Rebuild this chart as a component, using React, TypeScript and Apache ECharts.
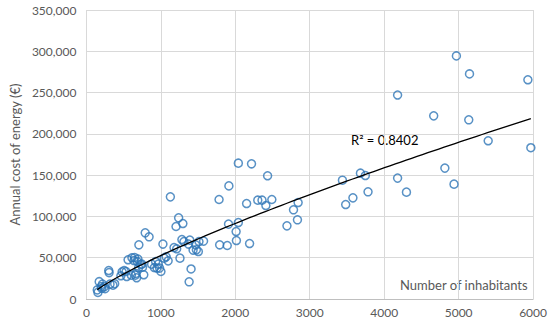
import React, { useEffect, useRef } from "react";
import * as echarts from "echarts";

const inhabitants: number[] = [
  155, 172, 198, 216, 242, 146, 251, 317, 357, 380, 300, 305, 207,
  463, 480, 507, 533, 542, 560, 604, 612, 639, 648, 657, 665, 675, 684, 692, 701, 705, 728, 745, 754, 771, 790, 842, 876, 913, 930, 948, 966, 983, 1001, 1028, 1045, 1071, 1098,
  1128, 1177, 1213, 1204, 1239, 1296, 1257, 1283, 1310, 1372, 1389, 1406, 1380, 1433, 1468, 1477, 1504, 1512, 1574,
  1782, 1790, 1892, 1914, 1909, 2011, 2015, 2041, 2041, 2192, 2218, 2152, 2302, 2359, 2411, 2434, 2491,
  2694, 2782, 2835, 2844,
  3439, 3483, 3580, 3681, 3747, 3783, 4180, 4180, 4299,
  4665, 4815, 4938, 4970, 5136, 5146, 5397, 5930, 5970,
];

const energyCost: number[] = [
  8000, 21000, 15000, 18000, 15000, 11000, 12500, 18000, 16800, 18500, 34500, 32000, 13000,
  28100, 32900, 34500, 33300, 27200, 47500, 28900, 49900, 46600, 50200, 28900, 30900, 25700, 45400, 48300, 37800, 65600, 41800, 42200, 38600, 29300, 80100, 75300, 42200, 38100, 45400, 37400, 42200, 37400, 33300, 66500, 49500, 51100, 46200,
  123700, 62300, 60800, 87800, 98300, 91400, 49500, 72000, 69600, 66500, 71300, 36400, 20800, 59200, 65600, 59600, 57500, 69600, 70100,
  120500, 65600, 64800, 137000, 90700, 81700, 70800, 92600, 164500, 67200, 163700, 115600, 119700, 119700, 113200, 149200, 120500,
  88600, 108000, 95900, 116800,
  143900, 114400, 122500, 152400, 149500, 129800, 146400, 247000, 129400,
  221800, 158500, 139100, 294400, 217000, 272600, 191600, 265500, 183200,
];

const xTicks = { min: 0, max: 6000, interval: 1000 };
const yTicks = { min: 0, max: 350000, interval: 50000 };
const rSquaredLabel = "R² = 0.8402";
const xAxisTitle = "Number of inhabitants";
const yAxisTitle = "Annual cost of energy (€)";

function powerFit(xs: number[], ys: number[]) {
  const n = xs.length;
  let sx = 0, sy = 0, sxx = 0, sxy = 0;
  for (let i = 0; i < n; i++) {
    const lx = Math.log(xs[i]);
    const ly = Math.log(ys[i]);
    sx += lx; sy += ly; sxx += lx * lx; sxy += lx * ly;
  }
  const b = (n * sxy - sx * sy) / (n * sxx - sx * sx);
  const lnA = (sy - b * sx) / n;
  return { a: Math.exp(lnA), b };
}

export default function App() {
  const ref = useRef<HTMLDivElement>(null);
  useEffect(() => {
    if (!ref.current) return;
    const chart = echarts.init(ref.current, undefined, { renderer: "svg" });
    const points = inhabitants.map((x, i) => [x, energyCost[i]]);
    const { a, b } = powerFit(inhabitants, energyCost);
    const minX = Math.min(...inhabitants);
    const maxX = Math.max(...inhabitants);
    const trend: number[][] = [];
    const steps = 80;
    for (let i = 0; i <= steps; i++) {
      const x = minX + ((maxX - minX) * i) / steps;
      trend.push([x, a * Math.pow(x, b)]);
    }
    const font = "Lato, 'Open Sans', sans-serif";
    chart.setOption({
      animation: false,
      grid: { left: 81, right: 15, top: 10, bottom: 25 },
      xAxis: {
        type: "value",
        min: xTicks.min,
        max: xTicks.max,
        interval: xTicks.interval,
        axisLine: { show: true, lineStyle: { color: "#bfbfbf" } },
        axisTick: { show: false },
        axisLabel: { color: "#595959", fontSize: 12, fontFamily: font, margin: 7, formatter: (v: number) => String(v) },
        splitLine: { show: true, lineStyle: { color: "#d9d9d9", width: 1 } },
      },
      yAxis: {
        type: "value",
        min: yTicks.min,
        max: yTicks.max,
        interval: yTicks.interval,
        name: yAxisTitle,
        nameLocation: "middle",
        nameGap: 62,
        nameTextStyle: { color: "#595959", fontSize: 13, fontFamily: font },
        axisLine: { show: false },
        axisTick: { show: false },
        axisLabel: {
          color: "#595959",
          fontSize: 12,
          fontFamily: font,
          margin: 10,
          formatter: (v: number) => v.toLocaleString("en-US"),
        },
        splitLine: { show: true, lineStyle: { color: "#d9d9d9", width: 1 } },
      },
      series: [
        {
          type: "scatter",
          data: points,
          symbol: "circle",
          symbolSize: 8,
          itemStyle: { color: "rgba(0,0,0,0)", borderColor: "#2e75b6", borderWidth: 1.5 },
          z: 2,
        },
        {
          type: "line",
          data: trend,
          showSymbol: false,
          smooth: false,
          lineStyle: { color: "#000000", width: 1.3 },
          z: 3,
        },
      ],
      graphic: [
        {
          type: "text",
          left: 400,
          top: 278,
          style: { text: xAxisTitle, fill: "#595959", fontSize: 13, fontFamily: font },
        },
        {
          type: "text",
          left: 351,
          top: 133,
          style: { text: rSquaredLabel, fill: "#000000", fontSize: 13, fontFamily: font },
        },
      ],
    });
    return () => chart.dispose();
  }, []);
  return (
    <div
      ref={ref}
      style={{ position: "fixed", left: 0, top: 0, width: 550, height: 324, background: "#ffffff" }}
    />
  );
}
